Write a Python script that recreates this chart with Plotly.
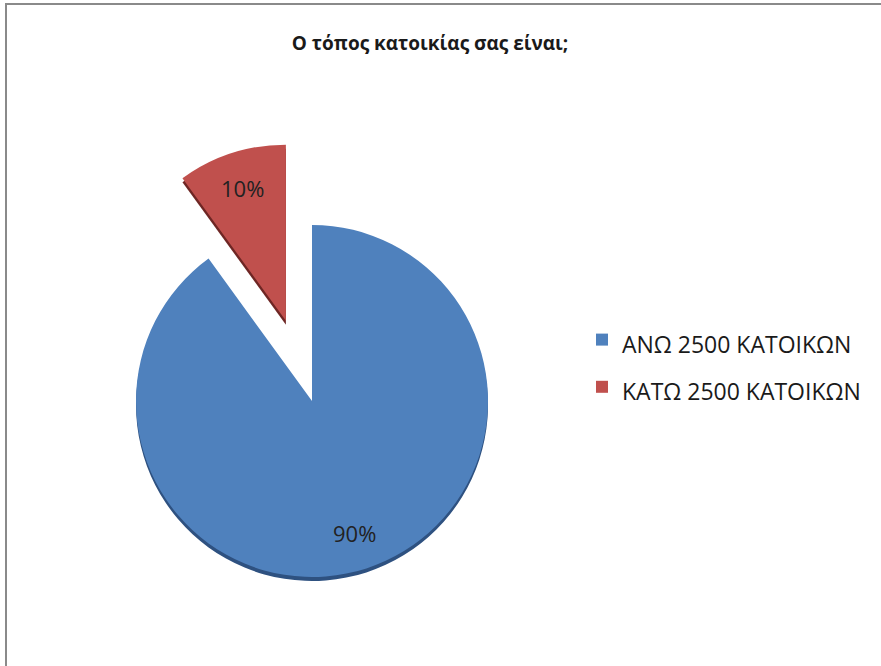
import math
import plotly.graph_objects as go

# ---- data ----
labels = ["ΑΝΩ 2500 ΚΑΤΟΙΚΩΝ", "ΚΑΤΩ 2500 ΚΑΤΟΙΚΩΝ"]
values = [90, 10]
pulls = [0, 0.48]
colors = ["#4F81BD", "#C0504D"]
shadow_colors = ["#2E5180", "#6E2624"]
title_text = "Ο τόπος κατοικίας σας είναι;"

W, H = 881, 666
# pie geometry (pixels)
cx, cy, r = 312, 401, 176
maxpull = max(pulls)
half = r * (1 + maxpull)
FONT = "Open Sans, sans-serif"

def dom(dx=0, dy=0):
    x0 = (cx + dx - half) / W
    x1 = (cx + dx + half) / W
    y0 = (H - (cy + dy + half)) / H
    y1 = (H - (cy + dy - half)) / H
    return dict(x=[x0, x1], y=[y0, y1])

legend_names = ['<span style="font-size:23px">' + l + "</span>" for l in labels]

fig = go.Figure()
# 3D-ish edge shadow
fig.add_trace(go.Pie(
    labels=legend_names, values=values, pull=pulls, sort=False, direction="clockwise",
    rotation=0, marker=dict(colors=shadow_colors, line=dict(width=0)),
    textinfo="none", hoverinfo="skip", showlegend=False, domain=dom(0, 4),
))
fig.add_trace(go.Pie(
    labels=legend_names, values=values, pull=pulls, sort=False,
    direction="clockwise", rotation=0,
    marker=dict(colors=colors, line=dict(width=0)),
    textinfo="none", hovertemplate="%{label}: %{percent}<extra></extra>",
    domain=dom(0, 0),
))

# percentage labels placed along each slice's mid-angle
total = sum(values)
annotations = []
start = 0.0
for v, p in zip(values, pulls):
    frac = v / total
    mid = (start + frac / 2) * 2 * math.pi  # clockwise from 12 o'clock
    start += frac
    ox = cx + p * r * math.sin(mid)
    oy = cy - p * r * math.cos(mid)
    lx = ox + 0.79 * r * math.sin(mid)
    ly = oy - 0.79 * r * math.cos(mid)
    annotations.append(dict(
        x=lx / W, y=1 - ly / H, xref="paper", yref="paper",
        xanchor="center", yanchor="middle",
        text=f"{frac * 100:.0f}%", showarrow=False,
        font=dict(family=FONT, size=22, color="#222222"),
    ))

fig.update_layout(
    width=W, height=H,
    margin=dict(l=0, r=0, t=0, b=0),
    paper_bgcolor="white",
    title=dict(text="<b>" + title_text + "</b>", x=430 / W, xanchor="center",
               y=1 - 43 / H, yanchor="middle",
               font=dict(family=FONT, size=19, color="#1a1a1a")),
    legend=dict(x=582 / W, y=1 - 311 / H, xanchor="left", yanchor="top",
                itemwidth=30,
                font=dict(family=FONT, size=34, color="#1a1a1a"),
                bgcolor="rgba(0,0,0,0)"),
    annotations=annotations,
    shapes=[dict(type="rect", xref="paper", yref="paper",
                 x0=6 / W, x1=1.02, y0=-0.02, y1=1 - 4 / H,
                 line=dict(color="#8a8a8a", width=2), fillcolor="rgba(0,0,0,0)")],
)

fig.write_html("out.html",
               config={"displayModeBar": False},
               post_script="document.body.style.margin='0px';"
                           "document.body.style.overflow='hidden';")
